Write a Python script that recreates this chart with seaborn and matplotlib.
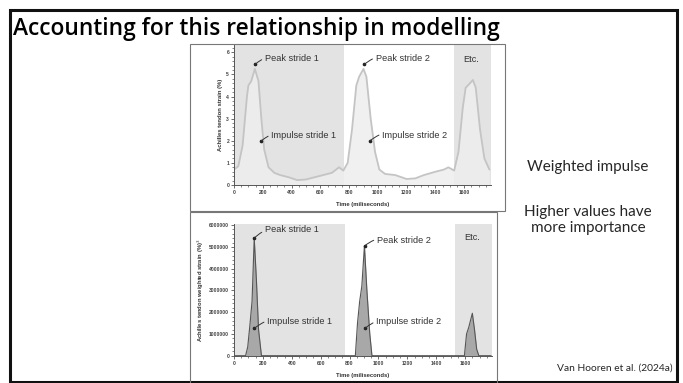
import numpy as np
import pandas as pd
import matplotlib
matplotlib.use("Agg")
import matplotlib.pyplot as plt
import seaborn as sns

# ---- data ----
time_strain = [0, 30, 60, 90, 100, 120, 145, 170, 190, 210, 240, 280, 320, 380, 440, 500,
               560, 620, 680, 730, 760, 790, 820, 850, 870, 900, 920, 950, 980, 1010, 1050,
               1120, 1200, 1260, 1320, 1400, 1460, 1490, 1530, 1560, 1590, 1610, 1640, 1660,
               1680, 1710, 1740, 1775]
strain = [0.7, 0.85, 1.8, 4.0, 4.5, 4.7, 5.25, 4.7, 3.0, 1.6, 0.8, 0.55, 0.45, 0.35, 0.22, 0.25,
          0.35, 0.45, 0.55, 0.8, 0.65, 1.0, 2.5, 4.5, 4.9, 5.25, 4.9, 3.0, 1.5, 0.7, 0.5,
          0.45, 0.27, 0.3, 0.45, 0.6, 0.7, 0.8, 0.65, 1.5, 3.5, 4.4, 4.6, 4.75,
          4.4, 2.5, 1.2, 0.7]

time_weighted = [0, 80, 95, 110, 125, 140, 155, 170, 190, 200, 830, 840, 855, 870, 885, 903,
                 920, 940, 955, 965, 1585, 1595, 1610, 1625, 1650, 1665, 1680, 1695, 1780]
weighted = [0, 0, 400000, 1400000, 2500000, 5400000, 3500000, 1200000, 0, 0, 0, 0, 1500000,
            2500000, 3200000, 5050000, 3000000, 1000000, 0, 0, 0, 0, 1000000, 1300000,
            1950000, 1200000, 300000, 0, 0]

bands = [(0, 767), (1530, 1784)]
x_ticks = [0, 200, 400, 600, 800, 1000, 1200, 1400, 1600]
labels_top = ["Peak stride 1", "Impulse stride 1", "Peak stride 2", "Impulse stride 2"]
ann_top_pts = [(145, 5.45), (190, 2.0), (905, 5.45), (945, 2.0)]
ann_top_txt = [(215, 5.72), (260, 2.25), (985, 5.72), (1030, 2.25)]
ann_bot_pts = [(140, 5.4e6), (140, 1.25e6), (905, 5.05e6), (905, 1.25e6)]
ann_bot_txt = [(215, 5.8e6), (230, 1.55e6), (990, 5.27e6), (985, 1.55e6)]

df_top = pd.DataFrame({"t": time_strain, "v": strain})
df_bot = pd.DataFrame({"t": time_weighted, "v": weighted})

sns.set_theme(style="white")
plt.rcParams["font.family"] = ["Liberation Sans", "DejaVu Sans"]

W, H = 683, 383
fig = plt.figure(figsize=(W / 100, H / 100), dpi=100)
fig.patch.set_facecolor("white")

def fx(px):
    return px / W

def fy(py):
    return 1 - py / H

# slide frame
fig.add_artist(plt.Rectangle((fx(10), fy(382)), fx(667), (372) / H, transform=fig.transFigure,
                             fill=False, edgecolor="#111111", lw=2.2))
# picture borders
fig.add_artist(plt.Rectangle((fx(190), fy(211)), fx(315), 167 / H, transform=fig.transFigure,
                             fill=False, edgecolor="#777777", lw=0.8))
fig.add_artist(plt.Rectangle((fx(190), fy(385)), fx(307), 173 / H, transform=fig.transFigure,
                             fill=False, edgecolor="#777777", lw=0.8))

fig.text(fx(13), fy(29), "Accounting for this relationship in modelling", family="Open Sans",
         fontsize=16.4, fontweight="semibold", color="black", va="center", ha="left")

fig.text(fx(588), fy(167), "Weighted impulse", family="Lato", fontsize=11, ha="center", va="center")
fig.text(fx(588), fy(220), "Higher values have\nmore importance", family="Lato", fontsize=11,
         ha="center", va="center", linespacing=1.1)
fig.text(fx(673), fy(368), "Van Hooren et al. (2024a)", family="Lato", fontsize=7.4,
         ha="right", va="center")

def style_axes(ax, ymax, yticks, ytl, ylabel):
    ax.set_facecolor("white")
    for b in bands:
        ax.axvspan(b[0], b[1], color="#e3e3e3", lw=0, zorder=0)
    ax.set_xlim(0, 1784)
    ax.set_ylim(0, ymax)
    ax.set_xticks(x_ticks)
    ax.set_xticklabels([str(v) for v in x_ticks], fontsize=3.6, fontweight="bold", color="#444444")
    ax.set_yticks(yticks)
    ax.set_yticklabels(ytl, fontsize=3.6, fontweight="bold", color="#444444")
    ax.yaxis.set_minor_locator(matplotlib.ticker.AutoMinorLocator(5))
    ax.xaxis.set_minor_locator(matplotlib.ticker.AutoMinorLocator(4))
    ax.tick_params(axis="both", which="major", length=2, width=0.6, color="#555555", pad=1.5,
                   left=True, bottom=True)
    ax.tick_params(axis="both", which="minor", length=1.2, width=0.5, color="#555555",
                   left=True, bottom=True)
    for s in ["top", "right"]:
        ax.spines[s].set_visible(False)
    for s in ["left", "bottom"]:
        ax.spines[s].set_color("#555555")
        ax.spines[s].set_linewidth(0.7)
    ax.set_xlabel("Time (miliseconds)", fontsize=4.2, fontweight="bold", color="#333333", labelpad=5)
    ax.set_ylabel(ylabel, fontsize=4.2, fontweight="bold", color="#333333", labelpad=2)

def annotate(ax, pts, txts):
    for lab, p, t in zip(labels_top, pts, txts):
        ax.plot([p[0]], [p[1]], "o", color="#222222", ms=1.6, zorder=5)
        ax.annotate(lab, xy=p, xytext=t, fontsize=6.6, color="#333333", va="center", ha="left",
                    arrowprops=dict(arrowstyle="-", color="#333333", lw=0.7,
                                    connectionstyle="arc3,rad=0.3", shrinkA=0, shrinkB=0),
                    zorder=6)
    ax.text(1650, ax.get_ylim()[1] * 0.9, "Etc.", fontsize=6.6, color="#333333", ha="center", va="center")

# top chart
ax1 = fig.add_axes([fx(234), fy(185), (490.7 - 234) / W, (185 - 45) / H])
ax1.fill_between(df_top["t"], df_top["v"], color="#eeeeee", alpha=0.85, lw=0, zorder=1)
sns.lineplot(data=df_top, x="t", y="v", ax=ax1, color="#c4c4c4", lw=1.3, zorder=2)
style_axes(ax1, 6.33, [0, 1, 2, 3, 4, 5, 6], ["0", "1", "2", "3", "4", "5", "6"],
           "Achilles tendon strain (%)")
annotate(ax1, ann_top_pts, ann_top_txt)

# bottom chart
ax2 = fig.add_axes([fx(234), fy(355.7), (491.7 - 234) / W, (355.7 - 224) / H])
ax2.fill_between(df_bot["t"], df_bot["v"], color="#a8a8a8", lw=0, zorder=1)
sns.lineplot(data=df_bot, x="t", y="v", ax=ax2, color="#555555", lw=0.8, zorder=2)
yt = [0, 1000000, 2000000, 3000000, 4000000, 5000000, 6000000]
style_axes(ax2, 6.05e6, yt, [str(v) for v in yt], "Achilles tendon weighted strain (%)$^{3}$")
annotate(ax2, ann_bot_pts, ann_bot_txt)

fig.savefig("out.png", dpi=100, facecolor="white")
